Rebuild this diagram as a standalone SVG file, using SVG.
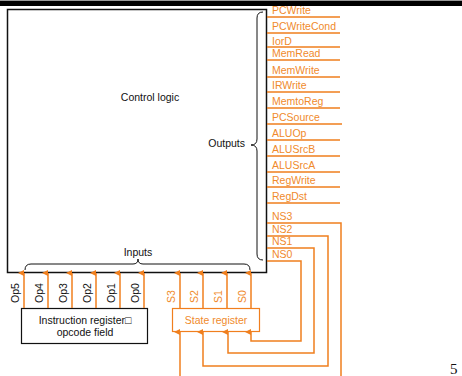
<svg xmlns="http://www.w3.org/2000/svg" width="462" height="376" viewBox="0 0 462 376">
<defs>
<marker id="ah" viewBox="0 0 6 6" refX="3" refY="6" markerWidth="6" markerHeight="6" orient="auto-start-reverse" markerUnits="userSpaceOnUse">
<path d="M0,6 L3,0 L6,6 Z" fill="#F07F1E"/>
</marker>
</defs>
<style>
text{font-family:"Liberation Sans",Arial,sans-serif;font-size:10.5px}
.o{fill:#F08A2C}
.k{fill:#111}
.ol{stroke:#F07F1E;stroke-width:1.5;fill:none}
.ar{stroke:#F07F1E;stroke-width:1.5;fill:none;marker-end:url(#ah)}
.br{stroke:#111;stroke-width:1;fill:none}
</style>
<rect x="0" y="0" width="462" height="1" fill="#999"/>
<rect x="0" y="1" width="462" height="5" fill="#000"/>

<g id="control-logic">
<rect x="7.5" y="9.5" width="259" height="263" fill="#fff" stroke="#111" stroke-width="1.5"/>
<text x="150" y="101" text-anchor="middle" class="k">Control logic</text>
<text x="245" y="147" text-anchor="end" class="k">Outputs</text>
<text x="138" y="256" text-anchor="middle" class="k">Inputs</text>
<path class="br" d="M263,12 Q257,12 257,18 L257,139 Q257,145 251,145 Q257,145 257,151 L257,254 Q257,260 263,260"/>
<path class="br" d="M25,270 Q25,264 31,264 L133,264 Q138,264 138,259 Q138,264 143,264 L244,264 Q250,264 250,270"/>
</g>

<g id="outputs">
<text x="272" y="14" class="o">PCWrite</text>
<text x="272" y="30" class="o">PCWriteCond</text>
<text x="272" y="45" class="o">IorD</text>
<text x="272" y="57" class="o">MemRead</text>
<text x="272" y="74" class="o">MemWrite</text>
<text x="272" y="89" class="o">IRWrite</text>
<text x="272" y="105" class="o">MemtoReg</text>
<text x="272" y="121" class="o">PCSource</text>
<text x="272" y="137" class="o">ALUOp</text>
<text x="272" y="153" class="o">ALUSrcB</text>
<text x="272" y="169" class="o">ALUSrcA</text>
<text x="272" y="184" class="o">RegWrite</text>
<text x="272" y="200" class="o">RegDst</text>
<text x="272" y="220" class="o">NS3</text>
<text x="272" y="233" class="o">NS2</text>
<text x="272" y="245" class="o">NS1</text>
<text x="272" y="258" class="o">NS0</text>
</g>

<g id="instruction-register">
<rect x="21.5" y="308.5" width="126" height="35" fill="#fff" stroke="#111" stroke-width="1.2"/>
<text x="85" y="324" text-anchor="middle" class="k">Instruction register□</text>
<text x="85" y="336" text-anchor="middle" class="k">opcode field</text>
</g>

<g id="state-register">
<rect x="172.5" y="308.5" width="87" height="23" fill="#fff" stroke="#F07F1E" stroke-width="1.2"/>
<text x="216" y="324" text-anchor="middle" class="o">State register</text>
</g>

<g id="op-labels">
<text class="k" transform="translate(19,303) rotate(-90)">Op5</text>
<text class="k" transform="translate(43,303) rotate(-90)">Op4</text>
<text class="k" transform="translate(67,303) rotate(-90)">Op3</text>
<text class="k" transform="translate(91,303) rotate(-90)">Op2</text>
<text class="k" transform="translate(115,303) rotate(-90)">Op1</text>
<text class="k" transform="translate(139,303) rotate(-90)">Op0</text>
<text class="o" transform="translate(175,303) rotate(-90)">S3</text>
<text class="o" transform="translate(198,303) rotate(-90)">S2</text>
<text class="o" transform="translate(222,303) rotate(-90)">S1</text>
<text class="o" transform="translate(246,303) rotate(-90)">S0</text>
</g>

<g id="connectors">
<path class="ol" d="M267,17 H340 M267,33 H340 M267,47 H340 M267,60 H340 M267,77 H340 M267,92 H340 M267,108 H340 M267,124 H342 M267,140 H340 M267,156 H340 M267,172 H340 M267,187 H340 M267,203 H340"/>
<path class="ol" d="M267,223 H341 V376"/>
<path class="ar" d="M267,236 H328 V366 H203 V332"/>
<path class="ar" d="M267,248 H314 V353 H228 V332"/>
<path class="ar" d="M267,261 H301 V341 H251 V332"/>
<path class="ar" d="M180,376 V332"/>
<path class="ar" d="M24,308 V273"/>
<path class="ar" d="M48,308 V273"/>
<path class="ar" d="M72,308 V273"/>
<path class="ar" d="M96,308 V273"/>
<path class="ar" d="M120,308 V273"/>
<path class="ar" d="M144,308 V273"/>
<path class="ar" d="M180,308 V273"/>
<path class="ar" d="M203,308 V273"/>
<path class="ar" d="M227,308 V273"/>
<path class="ar" d="M251,308 V273"/>
</g>

<text x="450" y="374" style="font-family:'Liberation Serif',serif;font-size:15px" fill="#111">5</text>
</svg>
